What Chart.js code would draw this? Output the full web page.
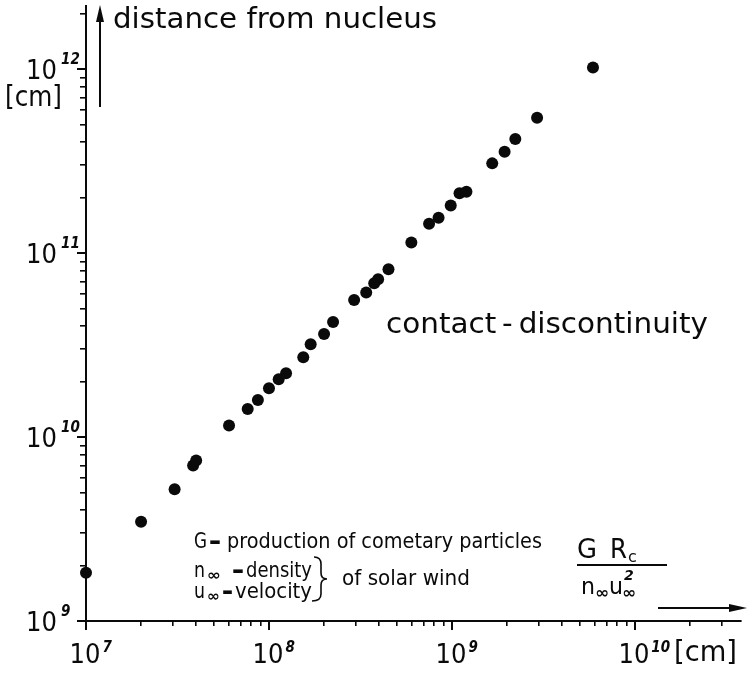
<!DOCTYPE html>
<html>
<head>
<meta charset="utf-8">
<title>Contact discontinuity distance</title>
<script src="https://cdn.jsdelivr.net/npm/chart.js@4.4.1/dist/chart.umd.min.js"></script>
<style>
  html, body { margin: 0; padding: 0; background: #fff; }
  canvas { display: block; }
</style>
</head>
<body>
<canvas id="chart" width="747" height="673"></canvas>
<script>
// G*Rc / (n u^2)  [cm]
const xValues = [1.0e7, 2.0e7, 3.05e7, 3.85e7, 4.0e7, 6.05e7, 7.65e7, 8.7e7, 1.0e8, 1.13e8,
  1.24e8, 1.54e8, 1.69e8, 2.0e8, 2.24e8, 2.92e8, 3.4e8, 3.76e8, 3.95e8, 4.5e8,
  6.0e8, 7.5e8, 8.45e8, 9.85e8, 1.1e9, 1.2e9, 1.66e9, 1.94e9, 2.22e9, 2.92e9, 5.9e9];
// distance from nucleus [cm]
const yValues = [1.83e9, 3.46e9, 5.2e9, 7.0e9, 7.45e9, 1.155e10, 1.42e10, 1.59e10, 1.84e10, 2.06e10,
  2.22e10, 2.71e10, 3.19e10, 3.63e10, 4.22e10, 5.55e10, 6.1e10, 6.85e10, 7.2e10, 8.15e10,
  1.14e11, 1.44e11, 1.555e11, 1.81e11, 2.11e11, 2.15e11, 3.07e11, 3.55e11, 4.16e11, 5.44e11, 1.02e12];

const xDecades = [7, 8, 9, 10];
const yDecades = [9, 10, 11, 12];
const xRange = [1e7, 3.8e10];
const yRange = [1e9, 2.2e12];

const ink = '#0a0a0a';
const numFont = "'Liberation Sans Narrow', 'DejaVu Sans Condensed', sans-serif";
const textFont = "'DejaVu Sans', sans-serif";

// 1..9 x 10^d inside the axis range
function logTicks(decades, range) {
  const out = [];
  decades.forEach(d => {
    for (let m = 1; m <= 9; m++) {
      const v = m * Math.pow(10, d);
      if (v >= range[0] && v <= range[1]) out.push({ value: v });
    }
  });
  return out;
}

// text at a font size, squeezed to a given width (the lettering is narrow)
function fitText(ctx, text, x, y, width, size, weight) {
  ctx.font = (weight || '') + ' ' + size + 'px ' + textFont;
  const w = ctx.measureText(text).width;
  ctx.save();
  ctx.translate(x, y);
  ctx.scale(width / w, 1);
  ctx.fillText(text, 0, 0);
  ctx.restore();
}

const figureText = {
  id: 'figureText',
  afterDraw(chart) {
    const ctx = chart.ctx;
    const xs = chart.scales.x, ys = chart.scales.y;
    const area = chart.chartArea;
    ctx.save();
    ctx.fillStyle = ink;
    ctx.strokeStyle = ink;
    ctx.textBaseline = 'alphabetic';
    ctx.textAlign = 'left';

    // longer decade ticks
    ctx.lineWidth = 2;
    xDecades.forEach(d => {
      const px = Math.round(xs.getPixelForValue(Math.pow(10, d)));
      ctx.beginPath(); ctx.moveTo(px, area.bottom); ctx.lineTo(px, area.bottom + 9); ctx.stroke();
    });
    yDecades.forEach(d => {
      const py = Math.round(ys.getPixelForValue(Math.pow(10, d)));
      ctx.beginPath(); ctx.moveTo(area.left, py); ctx.lineTo(area.left - 9, py); ctx.stroke();
    });

    // x tick labels
    xDecades.forEach(d => {
      const px = xs.getPixelForValue(Math.pow(10, d));
      ctx.font = '27px ' + numFont;
      const w = ctx.measureText('10').width;
      ctx.fillText('10', px - w / 2 - 1, 663);
      ctx.font = 'italic bold 15px ' + numFont;
      ctx.fillText(String(d), px + w / 2 + 1, 652);
    });
    // y tick labels
    yDecades.forEach(d => {
      const py = ys.getPixelForValue(Math.pow(10, d));
      ctx.font = '27px ' + numFont;
      ctx.textAlign = 'right';
      ctx.fillText('10', 57, py + 10);
      ctx.font = 'italic bold 15px ' + numFont;
      ctx.textAlign = 'left';
      ctx.fillText(String(d), 61, py - 5);
    });

    // units
    fitText(ctx, '[cm]', 5, 106, 57, 28);
    fitText(ctx, '[cm]', 674, 661, 63, 29);

    // axis titles and arrows
    fitText(ctx, 'distance from nucleus', 113, 28, 324, 28);
    ctx.lineWidth = 2;
    ctx.beginPath(); ctx.moveTo(100, 107); ctx.lineTo(100, 18); ctx.stroke();
    ctx.beginPath(); ctx.moveTo(100, 5); ctx.lineTo(96, 22); ctx.lineTo(104, 22); ctx.closePath(); ctx.fill();

    ctx.beginPath(); ctx.moveTo(658, 608); ctx.lineTo(735, 608); ctx.stroke();
    ctx.beginPath(); ctx.moveTo(747, 608); ctx.lineTo(729, 604); ctx.lineTo(729, 612); ctx.closePath(); ctx.fill();

    // fraction G Rc / (n u^2)
    fitText(ctx, 'G', 577, 558, 20, 26);
    fitText(ctx, 'R', 610, 558, 17, 26);
    ctx.font = '16px ' + textFont;
    ctx.fillText('c', 628, 562);
    ctx.lineWidth = 2;
    ctx.beginPath(); ctx.moveTo(577, 565); ctx.lineTo(667, 565); ctx.stroke();
    fitText(ctx, 'n', 581, 594, 14, 23);
    fitText(ctx, 'u', 609, 594, 14, 23);
    fitText(ctx, '\u221E', 595, 598, 14, 16, 'bold');
    fitText(ctx, '\u221E', 622, 598, 14, 16, 'bold');
    ctx.font = 'italic bold 14px ' + textFont;
    ctx.fillText('2', 624, 580);

    // curve label
    fitText(ctx, 'contact\u2009-\u2009discontinuity', 386, 333, 322, 29);

    // legend notes
    fitText(ctx, 'G', 194, 548, 13, 21);
    fitText(ctx, '\u2013', 209, 550, 12, 28, 'bold');
    fitText(ctx, 'production of cometary particles', 227, 548, 315, 21);

    fitText(ctx, 'n', 194, 577, 11, 21);
    fitText(ctx, 'u', 194, 598, 11, 21);
    fitText(ctx, '\u221E', 207, 580, 14, 15, 'bold');
    fitText(ctx, '\u221E', 207, 601, 13, 15, 'bold');
    fitText(ctx, '\u2013', 232, 579, 12, 28, 'bold');
    fitText(ctx, '\u2013', 222, 600, 11, 28, 'bold');
    fitText(ctx, 'density', 246, 577, 66, 21);
    fitText(ctx, 'velocity', 235, 598, 77, 21);
    fitText(ctx, 'of solar wind', 342, 585, 128, 21);

    // brace
    ctx.lineWidth = 1.6;
    ctx.beginPath();
    ctx.moveTo(314, 557);
    ctx.quadraticCurveTo(321, 557, 321, 564);
    ctx.lineTo(321, 573);
    ctx.quadraticCurveTo(321, 579, 327, 579);
    ctx.quadraticCurveTo(321, 579, 321, 585);
    ctx.lineTo(321, 594);
    ctx.quadraticCurveTo(321, 601, 312, 601);
    ctx.stroke();

    ctx.restore();
  }
};

const points = xValues.map((x, i) => ({ x: x, y: yValues[i] }));

new Chart(document.getElementById('chart'), {
  type: 'scatter',
  data: {
    datasets: [{
      data: points,
      pointRadius: 6,
      pointHoverRadius: 6,
      pointBackgroundColor: ink,
      pointBorderWidth: 0,
      clip: false
    }]
  },
  options: {
    responsive: false,
    animation: false,
    devicePixelRatio: 1,
    layout: { padding: { top: 5, right: 0, left: 0, bottom: 0 } },
    plugins: { legend: { display: false }, tooltip: { enabled: false } },
    scales: {
      x: {
        type: 'logarithmic',
        position: 'bottom',
        min: xRange[0],
        max: xRange[1],
        afterBuildTicks: s => { s.ticks = logTicks(xDecades, xRange); },
        afterFit: s => { s.height = 52; },
        ticks: { display: false },
        grid: { drawOnChartArea: false, drawTicks: true, tickLength: 5, color: ink, lineWidth: 1.6 },
        border: { display: true, color: ink, width: 2 }
      },
      y: {
        type: 'logarithmic',
        position: 'left',
        min: yRange[0],
        max: yRange[1],
        afterBuildTicks: s => { s.ticks = logTicks(yDecades, yRange); },
        afterFit: s => { s.width = 86; },
        ticks: { display: false },
        grid: { drawOnChartArea: false, drawTicks: true, tickLength: 6, color: ink, lineWidth: 1.6 },
        border: { display: true, color: ink, width: 2 }
      }
    }
  },
  plugins: [figureText]
});
</script>
</body>
</html>
